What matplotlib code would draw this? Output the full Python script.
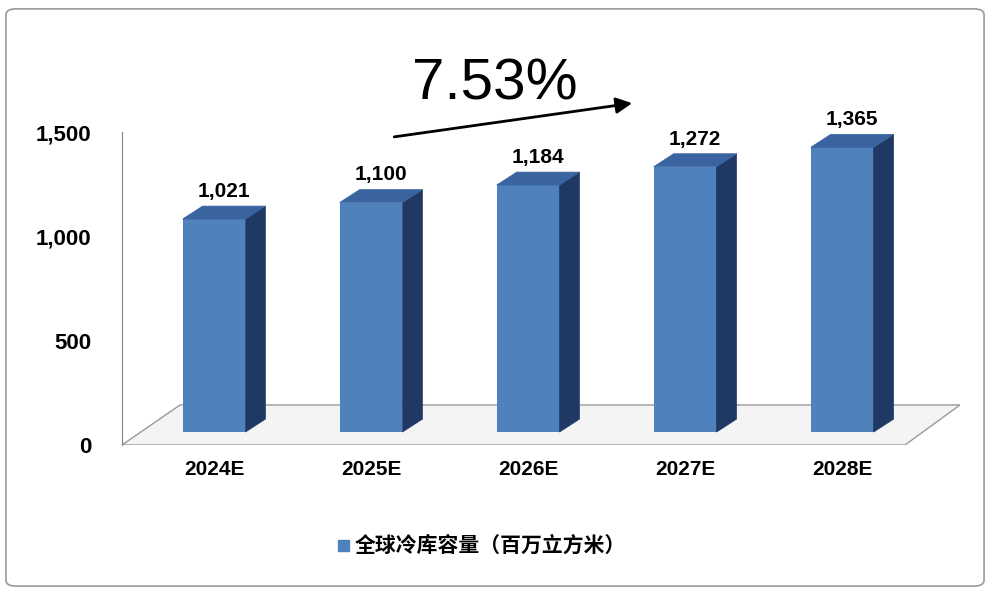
import matplotlib
matplotlib.use("Agg")
import matplotlib.pyplot as plt
from matplotlib.patches import Polygon, FancyBboxPatch

plt.rcParams['font.family'] = ['Liberation Sans', 'Noto Sans CJK SC', 'DejaVu Sans']

categories = ["2024E", "2025E", "2026E", "2027E", "2028E"]
values = [1021, 1100, 1184, 1272, 1365]
value_labels = ["1,021", "1,100", "1,184", "1,272", "1,365"]
yticks = [0, 500, 1000, 1500]
ytick_labels = ["0", "500", "1,000", "1,500"]
legend_label = "全球冷库容量（百万立方米）"
cagr = "7.53%"

fig = plt.figure(figsize=(9.9, 5.92), dpi=100)
fig.patches.append(FancyBboxPatch((0.006, 0.01), 0.988, 0.975, boxstyle="round,pad=0,rounding_size=0.01",
                                  transform=fig.transFigure, fill=False, ec="#9a9a9a", lw=1.2))
ax = fig.add_axes([122/990, 147/592, 838/990, 354.7/592])
ax.set_xlim(-0.586, 4.75)
ax.set_ylim(0, 1700)
for s in ["top", "right", "bottom"]:
    ax.spines[s].set_visible(False)
ax.spines["left"].set_color("#808080")
ax.spines["left"].set_bounds(0, 1500)
ax.set_yticks(yticks)
ax.set_yticklabels(ytick_labels, fontsize=16, fontweight="bold")
ax.tick_params(axis="y", length=0, pad=22)
ax.set_xticks([])

# floor
ax.add_patch(Polygon([(-0.586, 0), (-0.586 + 58/157, 192), (4.75, 192), (4.75 - 55/157, 0)],
                     closed=True, fc="#f4f4f4", ec="#9a9a9a", lw=1, zorder=0))

base = 62
w = 0.4
dx, dy = 0.127, 62
x = list(range(len(categories)))
ax.bar(x, values, bottom=base, width=w, color="#4F81BD", zorder=3)
for xi, v, lab, cat in zip(x, values, value_labels, categories):
    l, r, t = xi - w/2, xi + w/2, base + v
    ax.add_patch(Polygon([(r, base), (r + dx, base + dy), (r + dx, t + dy), (r, t)],
                         closed=True, fc="#1F3864", ec="#1F3864", lw=0.5, zorder=3))
    ax.add_patch(Polygon([(l, t), (l + dx, t + dy), (r + dx, t + dy), (r, t)],
                         closed=True, fc="#3A64A0", ec="#3A64A0", lw=0.5, zorder=3))
    ax.text(xi + dx/2, t + dy + 25, lab, ha="center", va="bottom", fontsize=15, fontweight="bold")
    ax.text(xi, -70, cat, ha="center", va="top", fontsize=15, fontweight="bold", clip_on=False)

ax.annotate("", xy=(2.68, 1640), xytext=(1.13, 1475),
            arrowprops=dict(arrowstyle="-|>", color="black", lw=2, mutation_scale=24), annotation_clip=False)
ax.text(1.79, 1600, cagr, ha="center", va="bottom", fontsize=42, clip_on=False)

fig.patches.append(plt.Rectangle((338/990, 1 - 551/592), 11/990, 11/592, transform=fig.transFigure, color="#4F81BD"))
fig.text(355/990, 1 - 545/592, legend_label, va="center", ha="left", fontsize=15, fontweight="bold",
         family=['Noto Sans CJK SC', 'DejaVu Sans'])

fig.savefig("out.png", dpi=100)
